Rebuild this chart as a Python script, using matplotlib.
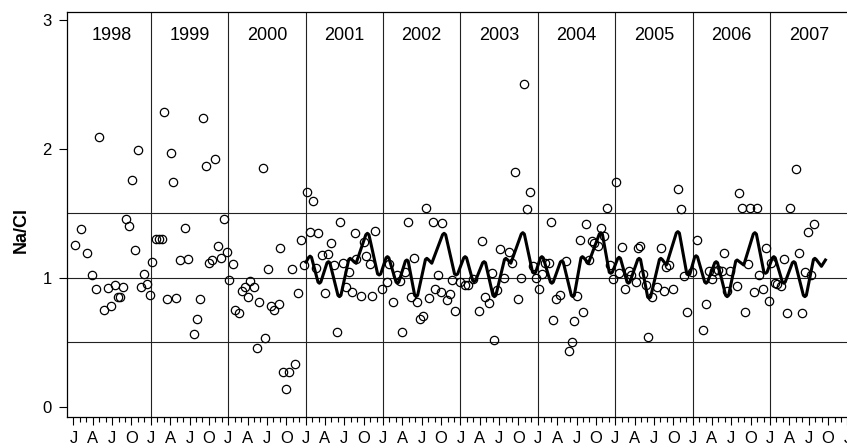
import matplotlib.pyplot as plt
import numpy as np

plt.rcParams['font.family'] = ['Liberation Sans', 'DejaVu Sans']

###############################################################################
# Data: observed Na/Cl ratio (time in decimal years)
###############################################################################

t_1998 = [1998.026, 1998.103, 1998.181, 1998.242, 1998.297, 1998.336, 1998.397,
          1998.448, 1998.491, 1998.535, 1998.574, 1998.607, 1998.642, 1998.685,
          1998.720, 1998.762, 1998.797, 1998.832, 1998.871, 1998.910, 1998.952,
          1998.987]
v_1998 = [1.251, 1.375, 1.189, 1.021, 0.915, 2.088, 0.747,
          0.922, 0.781, 0.943, 0.850, 0.850, 0.930, 1.453,
          1.401, 1.757, 1.212, 1.988, 0.925, 1.029, 0.949,
          0.864]

t_1999 = [1999.021, 1999.065, 1999.107, 1999.146, 1999.176, 1999.214, 1999.258,
          1999.292, 1999.331, 1999.375, 1999.447, 1999.486, 1999.563, 1999.602,
          1999.641, 1999.676, 1999.714, 1999.757, 1999.796, 1999.831, 1999.870,
          1999.904, 1999.943, 1999.982]
v_1999 = [1.119, 1.298, 1.302, 1.302, 2.284, 0.835, 1.964,
          1.740, 0.843, 1.137, 1.383, 1.145, 0.564, 0.682,
          0.837, 2.236, 1.864, 1.112, 1.135, 1.922, 1.248,
          1.150, 1.453, 1.199]

t_2000 = [2000.016, 2000.059, 2000.093, 2000.137, 2000.176, 2000.214, 2000.253,
          2000.287, 2000.331, 2000.370, 2000.403, 2000.447, 2000.481, 2000.519,
          2000.554, 2000.597, 2000.661, 2000.674, 2000.713, 2000.748, 2000.787,
          2000.826, 2000.868, 2000.903, 2000.938, 2000.985]
v_2000 = [0.982, 1.104, 0.750, 0.724, 0.899, 0.930, 0.850,
          0.974, 0.926, 0.455, 0.814, 1.850, 0.535, 1.070,
          0.783, 0.747, 0.794, 1.228, 0.267, 0.137, 0.267,
          1.070, 0.331, 0.881, 1.292, 1.101]

t_2001 = [2001.023, 2001.054, 2001.097, 2001.136, 2001.158, 2001.209, 2001.252,
          2001.287, 2001.333, 2001.372, 2001.407, 2001.450, 2001.484, 2001.519,
          2001.562, 2001.601, 2001.636, 2001.656, 2001.713, 2001.752, 2001.786,
          2001.829, 2001.863, 2001.894, 2001.984]
v_2001 = [1.667, 1.352, 1.592, 1.078, 1.344, 1.176, 0.884,
          1.181, 1.267, 1.096, 0.579, 1.432, 1.112, 0.930,
          1.042, 0.887, 1.349, 1.143, 0.858, 1.274, 1.168,
          1.104, 0.860, 1.360, 0.912]

t_2002 = [2002.053, 2002.083, 2002.130, 2002.182, 2002.225, 2002.247, 2002.289,
          2002.324, 2002.367, 2002.402, 2002.444, 2002.475, 2002.518, 2002.557,
          2002.599, 2002.647, 2002.673, 2002.712, 2002.750, 2002.760, 2002.824,
          2002.867, 2002.897, 2002.935]
v_2002 = [0.967, 1.104, 0.814, 1.019, 0.974, 0.581, 1.042,
          1.432, 0.853, 1.150, 0.814, 0.680, 0.705, 1.538,
          0.840, 1.432, 0.915, 1.021, 0.887, 1.424, 0.825,
          0.874, 0.980, 0.740]

t_2003 = [2002.996, 2003.061, 2003.103, 2003.168, 2003.245, 2003.284, 2003.323,
          2003.367, 2003.406, 2003.439, 2003.478, 2003.513, 2003.561, 2003.629,
          2003.668, 2003.707, 2003.745, 2003.784, 2003.819, 2003.858, 2003.897,
          2003.935, 2003.982]
v_2003 = [0.969, 0.943, 0.943, 0.988, 0.740, 1.287, 0.850,
          0.806, 1.034, 0.515, 0.907, 1.220, 1.000, 1.197,
          1.116, 1.817, 0.837, 1.000, 2.502, 1.535, 1.664,
          1.093, 0.998]

t_2004 = [2004.021, 2004.056, 2004.098, 2004.142, 2004.168, 2004.202, 2004.240,
          2004.284, 2004.362, 2004.401, 2004.439, 2004.473, 2004.512, 2004.547,
          2004.585, 2004.628, 2004.659, 2004.698, 2004.731, 2004.783, 2004.814,
          2004.860, 2004.895, 2004.930, 2004.973]
v_2004 = [0.910, 1.026, 1.112, 1.112, 1.434, 0.670, 0.833,
          0.866, 1.132, 0.432, 0.504, 0.664, 0.858, 1.292,
          0.736, 1.416, 1.137, 1.282, 1.267, 1.248, 1.385,
          1.323, 1.538, 1.096, 0.992]

t_2005 = [2005.016, 2005.050, 2005.085, 2005.124, 2005.176, 2005.202, 2005.274,
          2005.292, 2005.322, 2005.360, 2005.399, 2005.429, 2005.477, 2005.545,
          2005.597, 2005.628, 2005.658, 2005.700, 2005.744, 2005.813, 2005.851,
          2005.890, 2005.925, 2005.997]
v_2005 = [1.742, 1.039, 1.240, 0.910, 1.052, 1.021, 0.969,
          1.228, 1.246, 1.026, 0.943, 0.538, 0.853, 0.928,
          1.228, 0.899, 1.085, 1.096, 0.915, 1.690, 1.535,
          1.013, 0.736, 1.047]

t_2006 = [2006.062, 2006.140, 2006.175, 2006.214, 2006.252, 2006.282, 2006.329,
          2006.385, 2006.411, 2006.442, 2006.488, 2006.571, 2006.605, 2006.640,
          2006.678, 2006.717, 2006.747, 2006.795, 2006.834, 2006.863, 2006.907,
          2006.950, 2006.985]
v_2006 = [1.292, 0.595, 0.796, 1.054, 0.988, 1.054, 1.057,
          1.054, 1.189, 0.899, 1.054, 0.933, 1.654, 1.538,
          0.732, 1.104, 1.538, 0.891, 1.538, 1.021, 0.912,
          1.230, 0.822]

t_2007 = [2007.014, 2007.066, 2007.096, 2007.140, 2007.178, 2007.217, 2007.256,
          2007.333, 2007.372, 2007.411, 2007.450, 2007.488, 2007.527, 2007.566]
v_2007 = [1.116, 0.957, 0.951, 0.938, 1.147, 0.729, 1.538,
          1.845, 1.194, 0.724, 1.042, 1.352, 1.019, 1.416]

# fitted seasonal curve: peaks, troughs and shoulder points
fit_t = [2001.005, 2001.040, 2001.058, 2001.076, 2001.160, 2001.178, 2001.196,
         2001.277, 2001.295, 2001.313, 2001.418, 2001.437, 2001.456, 2001.557,
         2001.575, 2001.593, 2001.652, 2001.778, 2001.798, 2001.818, 2001.930,
         2001.950, 2001.970,
         2002.039, 2002.057, 2002.075, 2002.168, 2002.186, 2002.204, 2002.289,
         2002.307, 2002.325, 2002.409, 2002.428, 2002.447, 2002.548, 2002.566,
         2002.584, 2002.630, 2002.769, 2002.789, 2002.809, 2002.924, 2002.944,
         2002.964,
         2003.043, 2003.061, 2003.079, 2003.159, 2003.177, 2003.195, 2003.288,
         2003.306, 2003.324, 2003.420, 2003.439, 2003.458, 2003.569, 2003.587,
         2003.605, 2003.651, 2003.786, 2003.806, 2003.826, 2003.932, 2003.952,
         2003.972,
         2004.034, 2004.052, 2004.070, 2004.163, 2004.181, 2004.199, 2004.292,
         2004.310, 2004.328, 2004.433, 2004.452, 2004.471, 2004.558, 2004.576,
         2004.594, 2004.654, 2004.794, 2004.814, 2004.834, 2004.923, 2004.943,
         2004.963,
         2005.032, 2005.050, 2005.068, 2005.153, 2005.171, 2005.189, 2005.291,
         2005.309, 2005.327, 2005.419, 2005.438, 2005.457, 2005.571, 2005.589,
         2005.607, 2005.661, 2005.789, 2005.809, 2005.829, 2005.925, 2005.945,
         2005.965,
         2006.027, 2006.045, 2006.063, 2006.156, 2006.174, 2006.192, 2006.286,
         2006.304, 2006.322, 2006.427, 2006.446, 2006.465, 2006.557, 2006.575,
         2006.593, 2006.661, 2006.784, 2006.804, 2006.824, 2006.921, 2006.941,
         2006.961,
         2007.031, 2007.049, 2007.067, 2007.160, 2007.178, 2007.196, 2007.289,
         2007.307, 2007.325, 2007.431, 2007.450, 2007.469, 2007.561, 2007.579,
         2007.597, 2007.664, 2007.716]
fit_v = [1.120, 1.158, 1.167, 1.158, 0.966, 0.957, 0.966,
         1.116, 1.124, 1.116, 0.863, 0.853, 0.863, 1.141,
         1.150, 1.141, 1.112, 1.333, 1.344, 1.333, 1.029,
         1.021, 1.029,
         1.154, 1.163, 1.154, 0.966, 0.957, 0.966, 1.129,
         1.137, 1.129, 0.863, 0.853, 0.863, 1.141, 1.150,
         1.141, 1.112, 1.333, 1.344, 1.333, 1.029, 1.021,
         1.029,
         1.154, 1.163, 1.154, 0.977, 0.969, 0.977, 1.116,
         1.124, 1.116, 0.863, 0.853, 0.863, 1.141, 1.150,
         1.141, 1.112, 1.338, 1.349, 1.338, 1.042, 1.034,
         1.042,
         1.154, 1.163, 1.154, 0.966, 0.957, 0.966, 1.122,
         1.130, 1.122, 0.863, 0.853, 0.863, 1.154, 1.163,
         1.154, 1.112, 1.338, 1.349, 1.338, 1.042, 1.034,
         1.042,
         1.149, 1.158, 1.149, 0.966, 0.957, 0.966, 1.141,
         1.150, 1.141, 0.850, 0.840, 0.850, 1.141, 1.150,
         1.141, 1.098, 1.346, 1.357, 1.346, 1.029, 1.021,
         1.029,
         1.161, 1.170, 1.161, 0.966, 0.957, 0.966, 1.116,
         1.124, 1.116, 0.863, 0.853, 0.863, 1.129, 1.137,
         1.129, 1.098, 1.338, 1.349, 1.338, 1.042, 1.034,
         1.042,
         1.154, 1.163, 1.154, 0.966, 0.957, 0.966, 1.116,
         1.124, 1.116, 0.863, 0.853, 0.863, 1.141, 1.150,
         1.141, 1.088, 1.137]

years = [1998, 1999, 2000, 2001, 2002, 2003, 2004, 2005, 2006, 2007]
quarter_labels = ['J', 'A', 'J', 'O']
ref_levels = [0.5, 1.0, 1.5]

###############################################################################
# Plot
###############################################################################

obs_t = t_1998 + t_1999 + t_2000 + t_2001 + t_2002 + t_2003 + t_2004 + t_2005 + t_2006 + t_2007
obs_v = v_1998 + v_1999 + v_2000 + v_2001 + v_2002 + v_2003 + v_2004 + v_2005 + v_2006 + v_2007

W, H = 847, 448
fig = plt.figure(figsize=(W / 100, H / 100), dpi=100)
x0, x1 = 1997.917, 2008.083
px_per_year = 77.4
ax = fig.add_axes([67 / W, 1 - 416.7 / H, (x1 - x0) * px_per_year / W, (416.7 - 12.3) / H])

for lev in ref_levels:
    ax.axhline(lev, color='#222222', lw=0.8, zorder=1)
for yr in years[1:]:
    ax.axvline(yr, color='#222222', lw=0.8, zorder=1)

ax.plot(obs_t, obs_v, linestyle='none', marker='o', ms=6, mfc='none',
        mec='k', mew=0.9, zorder=3)
ax.plot(fit_t, fit_v, color='k', lw=2.2, solid_joinstyle='round', zorder=4)

for yr in years:
    ax.text(yr + 0.5, 2.876, str(yr), ha='center', va='center', fontsize=13)

ax.set_yticks([0, 1, 2, 3])
ax.set_yticklabels(['0', '1', '2', '3'])
major = [y + q * 0.25 for y in range(1998, 2009) for q in range(4)]
major = [m for m in major if m <= x1]
ax.set_xticks(major)
ax.set_xticklabels([quarter_labels[i % 4] for i in range(len(major))])
minor = [1997 + m / 12 for m in range(11, 12 * 12)]
ax.set_xticks([m for m in minor if m <= x1], minor=True)

ax.set_xlim(x0, x1)
ax.set_ylim(-0.0775, 3.057)

ax.tick_params(axis='y', direction='out', length=6, width=0.8, labelsize=12, pad=5)
ax.tick_params(axis='x', which='major', direction='out', length=6, width=0.8,
               labelsize=12, pad=4)
ax.tick_params(axis='x', which='minor', direction='out', length=3.5, width=0.8)

for s in ['left', 'top', 'bottom']:
    ax.spines[s].set_linewidth(0.9)
ax.spines['right'].set_visible(False)

fig.text(21 / W, 1 - 230 / H, 'Na/Cl', rotation=90, ha='center', va='center',
         fontsize=13, fontweight='bold')

plt.savefig('out.png', dpi=100)
